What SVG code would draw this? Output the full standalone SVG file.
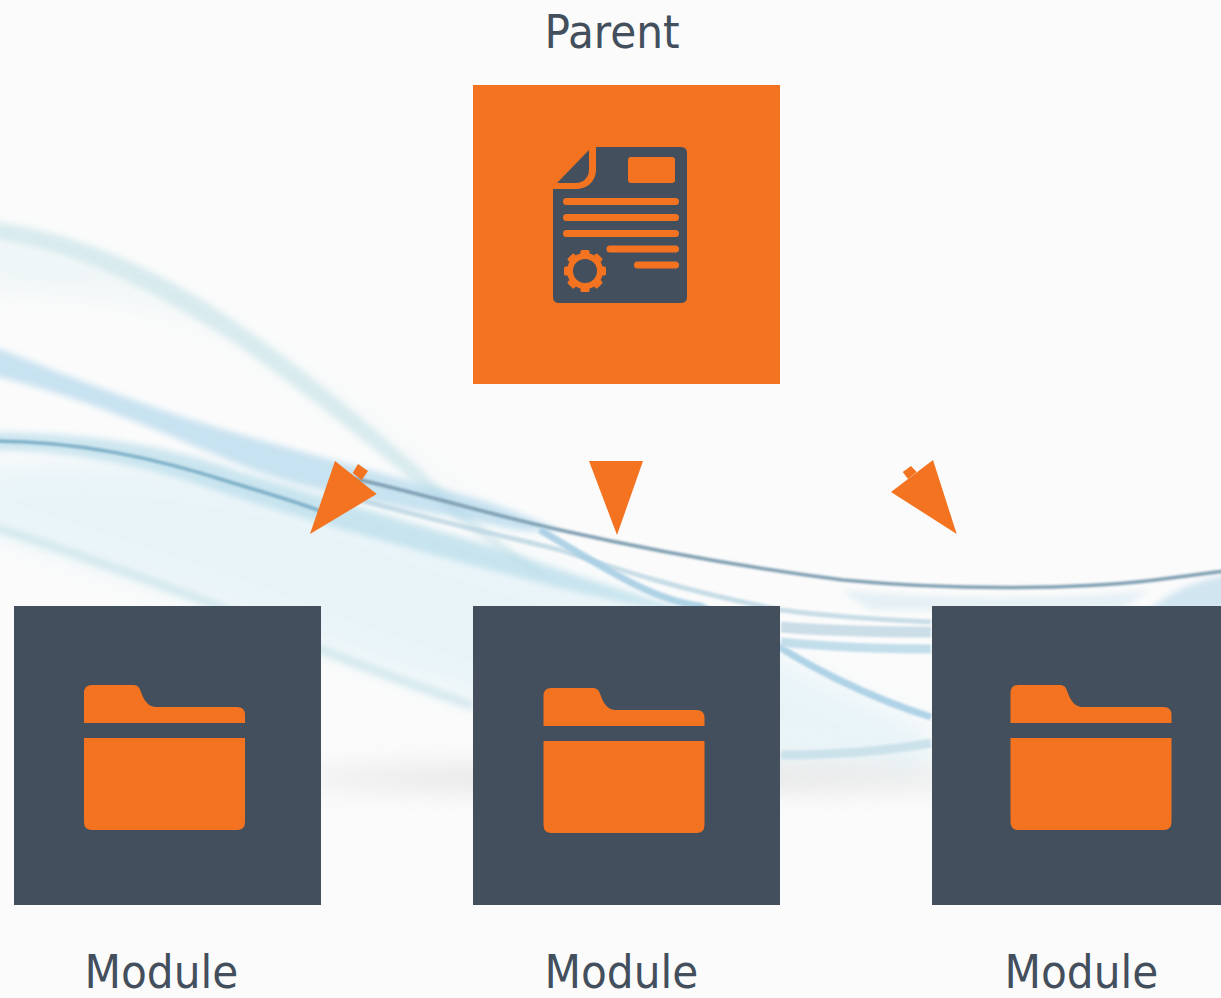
<svg xmlns="http://www.w3.org/2000/svg" width="1221" height="998" viewBox="0 0 1221 998">
<style>
.o{fill:#F37321}
.s{fill:#434F5C}
.t{font-family:"DejaVu Sans","Liberation Sans",sans-serif;font-stretch:condensed;font-size:47px;fill:#434F5C}
.w{fill:none;stroke-linecap:butt}
</style>
<defs>
<filter id="b1" filterUnits="userSpaceOnUse" x="-50" y="150" width="1321" height="750"><feGaussianBlur stdDeviation="1"/></filter>
<filter id="b2" filterUnits="userSpaceOnUse" x="-50" y="150" width="1321" height="750"><feGaussianBlur stdDeviation="3"/></filter>
<filter id="b3" filterUnits="userSpaceOnUse" x="-50" y="150" width="1321" height="750"><feGaussianBlur stdDeviation="14"/></filter>
<g id="folder">
<path class="o" d="M84 723V693Q84 685 92 685H134Q139 685 141 692Q146 707 156 707H237Q245 707 245 715V723Z"/>
<path class="o" d="M84 738H245V822Q245 830 237 830H92Q84 830 84 822Z"/>
</g>
</defs>
<rect width="1221" height="998" fill="#FBFBFB"/>
<g id="background">
<path d="M-20 470C120 450 250 470 390 520C520 570 640 590 760 650L930 730V770L781 760C600 740 420 690 218 606L-20 528Z" fill="#D6EDF5" opacity=".5" filter="url(#b3)"/>
<path d="M-20 225C110 250 230 320 330 395C410 450 480 510 560 555L520 540C430 480 340 420 250 350C160 295 80 290 -20 290Z" fill="#E6F2F4" opacity=".6" filter="url(#b3)"/>
<ellipse cx="640" cy="778" rx="340" ry="11" fill="#D4D4D4" opacity=".7" filter="url(#b3)"/>
<path d="M-10 222C80 232 170 275 240 325C320 380 395 445 470 515C500 542 530 565 555 582C520 565 490 545 460 522C390 460 310 395 230 340C160 295 80 250 -10 238Z" fill="#CFE6EA" opacity=".75" filter="url(#b2)"/>
<path d="M-10 345C78 380 156 410 233 432C300 452 400 478 470 497C500 505 530 518 560 530C520 535 500 525 470 520C400 508 300 490 233 462C156 430 78 395 -10 375Z" fill="#B2D8EC" opacity=".7" filter="url(#b2)"/>
<path d="M-10 432C80 432 170 445 240 472C300 490 400 520 470 540C530 558 620 592 700 614C620 606 530 580 460 562C380 540 300 518 230 495C160 470 80 450 -10 450Z" fill="#A8D5E6" opacity=".55" filter="url(#b2)"/>
<path class="w" d="M350 497C430 520 500 535 560 550C620 570 680 590 781 610C840 618 890 620 931 622" stroke="#BCD6E2" stroke-width="5" opacity=".8" filter="url(#b1)"/>
<path class="w" d="M335 474C428 495 480 512 560 530C640 548 727 565 843 580C960 591 1077 589 1155 580C1180 577 1200 574 1225 571" stroke="#7F9FB2" stroke-width="3.500" filter="url(#b1)"/>
<path class="w" d="M-10 441C78 441 156 458 233 483C290 500 310 507 320 511" stroke="#7FB0C8" stroke-width="3.500" filter="url(#b1)"/>
<path class="w" d="M540 530C600 565 650 600 700 606L781 648C800 660 860 695 931 717" stroke="#A8CFE4" stroke-width="7" opacity=".9" filter="url(#b1)"/>
<path class="w" d="M781 627C830 631 880 632 931 632" stroke="#CBDDE7" stroke-width="11" filter="url(#b1)"/>
<path class="w" d="M781 642C830 647 880 649 931 649" stroke="#C2DEEB" stroke-width="9" filter="url(#b1)"/>
<path class="w" d="M781 755C830 755 880 752 931 743" stroke="#CCE2EB" stroke-width="9" filter="url(#b1)"/>
<path class="w" d="M-10 526C78 553 156 583 218 606C290 640 400 680 473 706" stroke="#CBE4EA" stroke-width="9" opacity=".75" filter="url(#b2)"/>
<path d="M1230 574C1200 580 1170 590 1150 610H1230Z" fill="#BFDCEB" opacity=".7" filter="url(#b2)"/>
<path d="M840 590C960 600 1060 600 1150 590L1120 610H870Z" fill="#E3EFF4" opacity=".9" filter="url(#b2)"/>
</g>
<g id="connectors">
<g id="connector-left">
<polygon class="o" points="335,461 376.700,494 310,534"/>
<polygon class="o" points="358,464 368,471 361.700,480 352.700,473"/>
</g>
<polygon id="connector-middle" class="o" points="589,461 643,461 617,535"/>
<g id="connector-right">
<polygon class="o" points="933,460 956.700,534 891,492"/>
<polygon class="o" points="902.700,472 911,466 916.700,472 908,479"/>
</g>
</g>
<g id="parent">
<rect class="o" x="473" y="85" width="307" height="299"/>
<path class="s" d="M596 147H681Q687 147 687 153V297Q687 303 681 303H559Q553 303 553 297V189H577A19 19 0 0 0 596 170Z"/>
<path class="s" d="M589 150V170A13 13 0 0 1 576 183H557Z"/>
<rect class="o" x="628" y="157" width="47" height="26" rx="3"/>
<g class="o">
<rect x="563" y="198" width="116" height="7" rx="3.500"/>
<rect x="563" y="214" width="116" height="7" rx="3.500"/>
<rect x="563" y="230" width="116" height="7" rx="3.500"/>
<rect x="606.500" y="245.500" width="72.500" height="7" rx="3.500"/>
<rect x="634" y="261.500" width="45" height="7" rx="3.500"/>
<g id="gear">
<circle cx="585" cy="271" r="18"/>
<rect x="580.500" y="250" width="9" height="42" rx="1.500"/>
<rect x="580.500" y="250" width="9" height="42" rx="1.500" transform="rotate(45 585 271)"/>
<rect x="580.500" y="250" width="9" height="42" rx="1.500" transform="rotate(90 585 271)"/>
<rect x="580.500" y="250" width="9" height="42" rx="1.500" transform="rotate(135 585 271)"/>
</g>
</g>
<circle class="s" cx="585" cy="271" r="12"/>
<text class="t" x="544.500" y="47.500">Parent</text>
</g>
<g id="module-left">
<rect class="s" x="14" y="606" width="307" height="299"/>
<use href="#folder"/>
<text class="t" x="84.500" y="988">Module</text>
</g>
<g id="module-middle">
<rect class="s" x="473" y="606" width="307" height="299"/>
<use href="#folder" x="459.500" y="3"/>
<text class="t" x="544.500" y="988">Module</text>
</g>
<g id="module-right">
<rect class="s" x="932" y="606" width="289" height="299"/>
<use href="#folder" x="926.500"/>
<text class="t" x="1004.500" y="988">Module</text>
</g>
</svg>
